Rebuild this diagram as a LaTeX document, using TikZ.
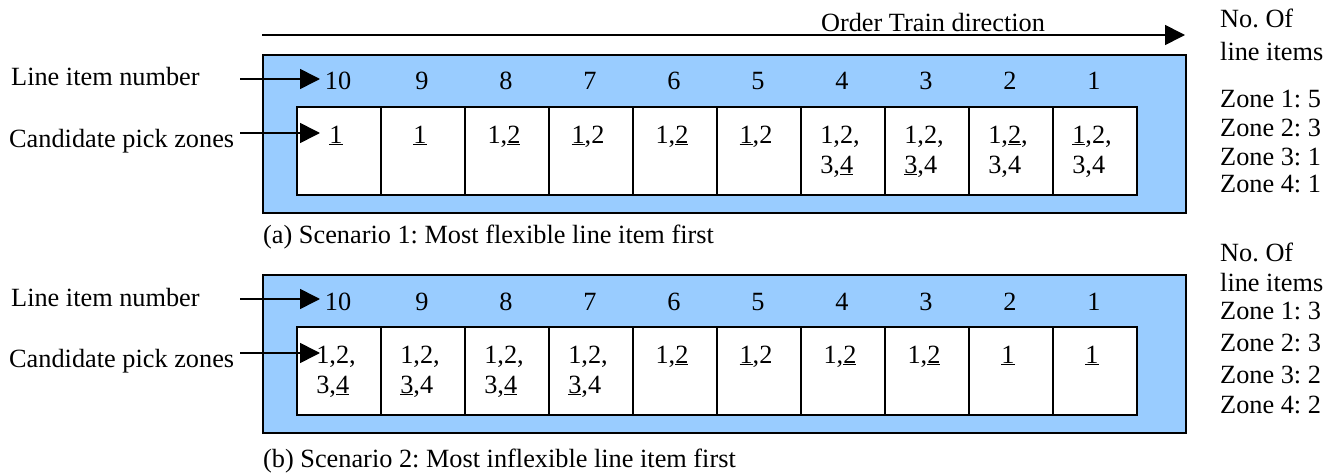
\documentclass[tikz,border=0pt]{standalone}
\usepackage{fontspec}
\setmainfont{Liberation Serif}
\usetikzlibrary{arrows.meta}
\definecolor{panelblue}{RGB}{153,204,255}
\frenchspacing

% stacked candidate zones, left aligned, first row on the node baseline
\newcommand\zonelist[1]{\begin{tabular}[t]{@{}l@{}}#1\end{tabular}}

% one order-train panel: frame, ten cells, numbers and the two pointer labels
\newcommand\drawpickpanel[1]{%
  \node[panel, anchor=north west, minimum width=923pt, minimum height=158pt] (frame) at (262,54) {};
  \foreach \i/\z in {#1} {
    \node[cellbox, anchor=north west, minimum width=84pt, minimum height=88pt] (cell-\i) at ({296+84*(\i-1)},106) {};
    \pgfmathtruncatemacro\itemno{11-\i}
    \node[anchor=base] (num-\i) at ({338+84*(\i-1)},90) {\itemno};
    \node[anchor=base] (zones-\i) at ({336+84*(\i-1)},143) {\zonelist{\z}};
  }
  \node[anchor=base west] (lbl-num) at (11,86) {Line item number};
  \node[anchor=base west] (lbl-zones) at (9,147) {Candidate pick zones};
  \coordinate (num-src) at (240,79);
  \coordinate (num-tip) at (320,79);
  \coordinate (zones-src) at (240,133);
  \coordinate (zones-tip) at (320,133);
  \draw[ptr] (num-src) -- (num-tip);
  \draw[ptr] (zones-src) -- (zones-tip);
}

\begin{document}
\begin{tikzpicture}[x=1pt, y=-1pt,
  every node/.style={font=\fontsize{26.3}{30}\selectfont, inner sep=0pt},
  panel/.style={draw=black, line width=1.6pt, fill=panelblue},
  cellbox/.style={draw=black, line width=1.6pt, fill=white},
  ptr/.style={line width=1.6pt, -{Triangle[length=20pt,width=20pt]}},
]
\useasboundingbox (0,0) rectangle (1336,476);

% direction of the order train
\coordinate (train-src) at (262,35);
\coordinate (train-tip) at (1185,35);
\draw[ptr] (train-src) -- (train-tip);
\node[anchor=base] (train-lbl) at (933,32) {Order Train direction};

% scenario 1
\begin{scope}[name prefix=a-]
\drawpickpanel{1/{\underline{1}}, 2/{\underline{1}}, 3/{1,\underline{2}}, 4/{\underline{1},2},
  5/{1,\underline{2}}, 6/{\underline{1},2}, 7/{1,2,\\3,\underline{4}}, 8/{1,2,\\\underline{3},4},
  9/{1,\underline{2},\\3,4}, 10/{\underline{1},2,\\3,4}}
\end{scope}
\node[anchor=base west] (cap-a) at (263,243) {(a) Scenario 1: Most flexible line item first};

\node[anchor=base west] (cnt-a0) at (1220,28) {No. Of};
\node[anchor=base west] (cnt-a00) at (1220,61) {line items};
\node[anchor=base west] (cnt-a1) at (1220,108) {Zone 1: 5};
\node[anchor=base west] (cnt-a2) at (1220,137) {Zone 2: 3};
\node[anchor=base west] (cnt-a3) at (1220,165) {Zone 3: 1};
\node[anchor=base west] (cnt-a4) at (1220,193) {Zone 4: 1};

% scenario 2
\begin{scope}[shift={(0,220)}, name prefix=b-]
\drawpickpanel{1/{1,2,\\3,\underline{4}}, 2/{1,2,\\\underline{3},4}, 3/{1,2,\\3,\underline{4}},
  4/{1,2,\\\underline{3},4}, 5/{1,\underline{2}}, 6/{\underline{1},2}, 7/{1,\underline{2}},
  8/{1,\underline{2}}, 9/{\underline{1}}, 10/{\underline{1}}}
\end{scope}
\node[anchor=base west] (cap-b) at (263,467) {(b) Scenario 2: Most inflexible line item first};

\node[anchor=base west] (cnt-b0) at (1220,261) {No. Of};
\node[anchor=base west] (cnt-b00) at (1220,291) {line items};
\node[anchor=base west] (cnt-b1) at (1220,319) {Zone 1: 3};
\node[anchor=base west] (cnt-b2) at (1220,351) {Zone 2: 3};
\node[anchor=base west] (cnt-b3) at (1220,383) {Zone 3: 2};
\node[anchor=base west] (cnt-b4) at (1220,413) {Zone 4: 2};
\end{tikzpicture}
\end{document}
